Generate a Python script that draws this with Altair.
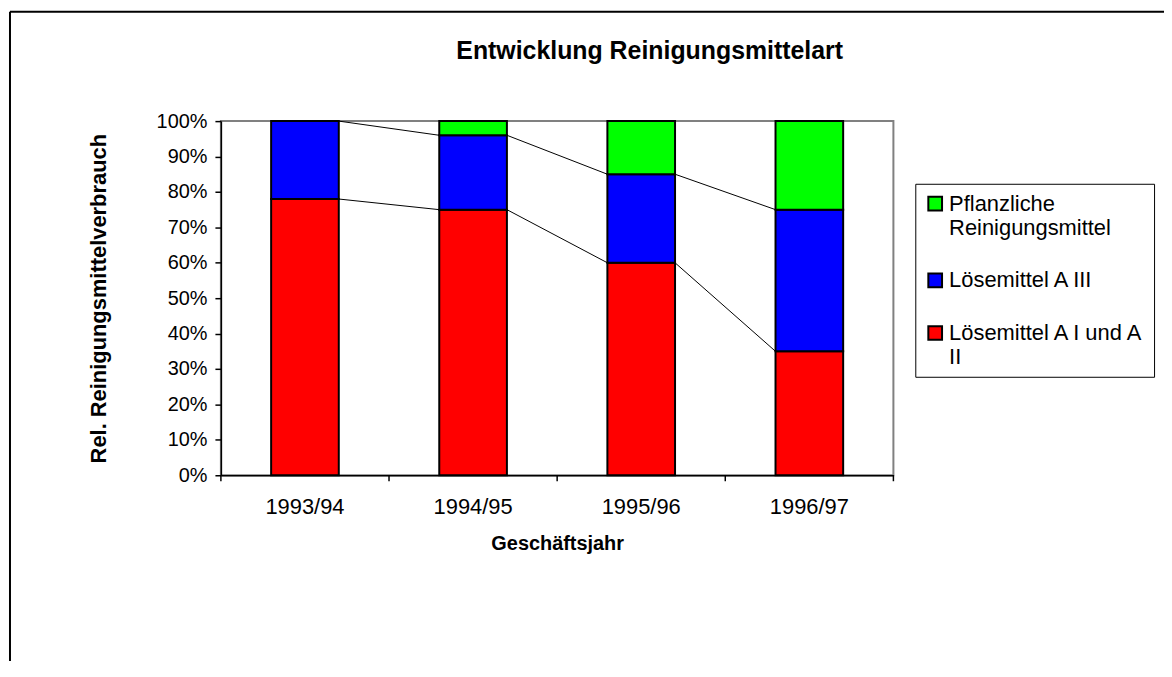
import altair as alt
import pandas as pd

years = ["1993/94", "1994/95", "1995/96", "1996/97"]
series = ["Lösemittel A I und A II", "Lösemittel A III", "Pflanzliche Reinigungsmittel"]
colors = ["#FF0000", "#0000FF", "#00FF00"]
red_vals = [78, 75, 60, 35]
blue_vals = [22, 21, 25, 40]
green_vals = [0, 4, 15, 25]
y_ticks = [0, 10, 20, 30, 40, 50, 60, 70, 80, 90, 100]
title_text = "Entwicklung Reinigungsmittelart"

FONT = "Liberation Sans"

rows = []
for i, y in enumerate(years):
    base = 0
    for k, (s, vals) in enumerate(zip(series, [red_vals, blue_vals, green_vals])):
        rows.append({"year": y, "series": s, "order": k, "y0": base, "y1": base + vals[i]})
        base += vals[i]
bars_df = pd.DataFrame(rows)

# series lines between tops of the red and blue segments
line_rows = []
cum_red = red_vals
cum_blue = [r + b for r, b in zip(red_vals, blue_vals)]
for cum in (cum_red, cum_blue):
    for i in range(len(years) - 1):
        line_rows.append({"year": years[i], "year_next": years[i + 1], "v": cum[i], "v2": cum[i + 1]})
lines_df = pd.DataFrame(line_rows)

W, H = 676, 356
PL, PT = 214, 112

xscale = alt.Scale(domain=years, paddingInner=0, paddingOuter=0)
yscale = alt.Scale(domain=[0, 100], nice=False)

x_axis = alt.Axis(title="Geschäftsjahr", labelAngle=0, ticks=False,
                  labelAlign="center", labelBaseline="top", bandPosition=0.5,
                  labelFont=FONT, labelFontSize=22, labelColor="black",
                  labelPadding=21, domainColor="black", domainWidth=1.5,
                  titleFont=FONT, titleFontSize=20, titleFontWeight="bold",
                  titleColor="black", titlePadding=17)
y_axis = alt.Axis(title="Rel. Reinigungsmittelverbrauch", values=y_ticks,
                  tickCount=len(y_ticks) + 1, labelOverlap=False,
                  labelExpr="datum.value + '%'", grid=False,
                  labelFont=FONT, labelFontSize=20, labelColor="black",
                  labelPadding=8, tickSize=6, tickColor="black", domainColor="black",
                  domainWidth=1.5, tickWidth=1.5,
                  titleFont=FONT, titleFontSize=22, titleFontWeight="bold",
                  titleColor="black", titlePadding=46)

bars = alt.Chart(bars_df).mark_bar(size=68, stroke="black", strokeWidth=2).encode(
    x=alt.X("year:N", sort=years, scale=xscale, axis=x_axis),
    y=alt.Y("y0:Q", scale=yscale, axis=y_axis),
    y2="y1:Q",
    color=alt.Color("series:N", scale=alt.Scale(domain=series[::-1], range=colors[::-1]),
                    legend=alt.Legend(orient="none", legendX=698, legendY=63, title=None,
                                      strokeColor="black", fillColor="white", padding=9,
                                      symbolType="square", symbolSize=190,
                                      symbolStrokeColor="black", symbolStrokeWidth=2,
                                      labelFont=FONT, labelFontSize=22, labelColor="black",
                                      labelLimit=300, rowPadding=31, labelOffset=3,
                                      labelExpr="datum.label == 'Pflanzliche Reinigungsmittel' ? ['Pflanzliche', 'Reinigungsmittel'] : (datum.label == 'Lösemittel A I und A II' ? ['Lösemittel A I und A', 'II'] : datum.label)")),
    order=alt.Order("order:Q"),
)

lines = alt.Chart(lines_df).mark_rule(color="black", strokeWidth=1).encode(
    x=alt.X("year:N", sort=years, scale=xscale, bandPosition=0.7012, axis=x_axis),
    x2=alt.X2("year_next:N", bandPosition=0.2988),
    y=alt.Y("v:Q", scale=yscale, axis=y_axis),
    y2="v2:Q",
)

# category-boundary tick marks on the x axis
ticks_df = pd.DataFrame({"year": years})
ticks_start = alt.Chart(ticks_df).mark_rule(color="black", strokeWidth=1.5).encode(
    x=alt.X("year:N", sort=years, scale=xscale, bandPosition=0, axis=x_axis),
    y=alt.value(H), y2=alt.value(H + 6))
ticks_end = alt.Chart(pd.DataFrame({"year": years[-1:]})).mark_rule(color="black", strokeWidth=1.5).encode(
    x=alt.X("year:N", sort=years, scale=xscale, bandPosition=1, axis=x_axis),
    y=alt.value(H), y2=alt.value(H + 6))

title = alt.Chart(pd.DataFrame({"t": [title_text]})).mark_text(
    font=FONT, fontSize=25, fontWeight="bold", color="black", align="center",
    baseline="alphabetic").encode(text="t:N", x=alt.value(431), y=alt.value(-62))

frame_df = pd.DataFrame({"a": [0]})
frame_top = alt.Chart(frame_df).mark_rule(color="black", strokeWidth=2).encode(
    x=alt.value(-212), x2=alt.value(1000), y=alt.value(-110))
frame_left = alt.Chart(frame_df).mark_rule(color="black", strokeWidth=2).encode(
    x=alt.value(-212), y=alt.value(-110), y2=alt.value(700))

chart = alt.layer(bars, lines, ticks_start, ticks_end, title, frame_top, frame_left).properties(
    width=W, height=H,
    background="white",
    autosize=alt.AutoSizeParams(type="none"),
    padding={"left": PL, "top": PT, "right": 272, "bottom": 185},
).configure_view(stroke="#808080", strokeWidth=2)

chart.save("out.html", embed_options={"renderer": "svg", "actions": False})
